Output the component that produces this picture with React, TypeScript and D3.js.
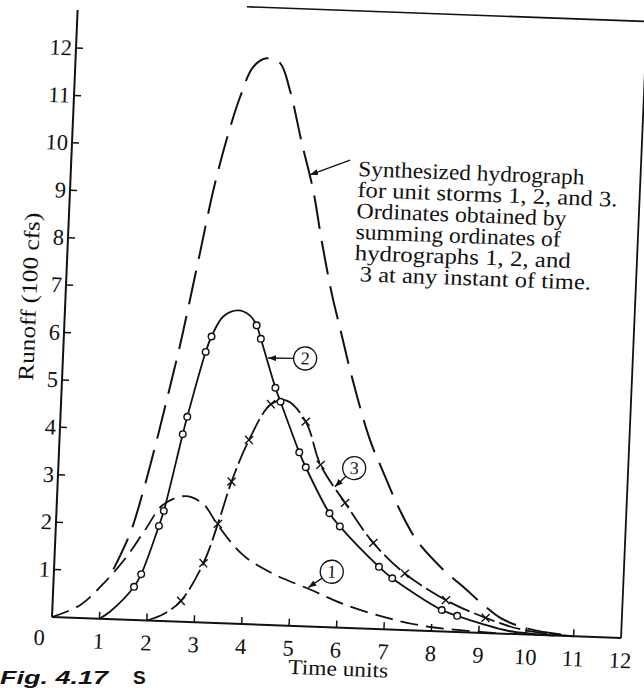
import * as d3 from 'd3';

type Pt = [number, number];

// time units on x, runoff (100 cfs) on y
const timeTicks = [1, 2, 3, 4, 5, 6, 7, 8, 9, 10, 11, 12];
const runoffTicks = [1, 2, 3, 4, 5, 6, 7, 8, 9, 10, 11, 12];

const hydro1: Pt[] = [
    [0, 0], [0.58, 0.27], [1.12, 0.82], [1.52, 1.33], [1.88, 1.9], [2.24, 2.45], [2.7, 2.65],
    [3.08, 2.5], [3.42, 2.05], [3.97, 1.45], [4.62, 1.08], [5.41, 0.78], [6.12, 0.5],
    [6.98, 0.26], [7.76, 0.11], [8.6, 0.04], [9.5, 0],
];

const hydro2: Pt[] = [
    [1, 0], [1.22, 0.16], [1.7, 0.7], [1.84, 0.97], [2.17, 2.0], [2.26, 2.32], [2.59, 3.95],
    [2.67, 4.32], [3.0, 5.7], [3.11, 6.03], [3.34, 6.46], [3.65, 6.6], [3.9, 6.5], [4.05, 6.3],
    [4.15, 6.02], [4.5, 5.0], [4.62, 4.71], [5.06, 3.66], [5.21, 3.35], [5.75, 2.4], [5.98, 2.13],
    [6.84, 1.31], [7.13, 1.08], [8.2, 0.45], [8.53, 0.34], [9.06, 0.19], [9.63, 0.06], [10.6, 0],
];

const hydro2Circles: Pt[] = [
    [1.7, 0.7], [1.84, 0.97], [2.17, 2.0], [2.26, 2.32], [2.59, 3.95], [2.67, 4.32], [3.0, 5.7],
    [3.11, 6.03], [4.05, 6.3], [4.15, 6.02], [4.5, 5.0], [4.62, 4.71], [5.06, 3.66], [5.21, 3.35],
    [5.75, 2.4], [5.98, 2.13], [6.84, 1.31], [7.13, 1.08], [8.2, 0.45], [8.53, 0.34],
];

const hydro3: Pt[] = [
    [2.0, 0], [2.35, 0.15], [2.7, 0.44], [3.14, 1.25], [3.41, 2.09], [3.66, 2.99], [3.99, 3.88],
    [4.42, 4.65], [4.75, 4.74], [5.17, 4.31], [5.52, 3.41], [6.07, 2.63], [6.7, 1.81],
    [7.39, 1.19], [8.28, 0.66], [9.13, 0.32], [9.9, 0.1], [11.0, 0],
];

const hydro3Crosses: Pt[] = [
    [2.7, 0.44], [3.14, 1.25], [3.41, 2.09], [3.66, 2.99], [3.99, 3.88], [4.42, 4.65],
    [5.17, 4.31], [5.52, 3.41], [6.07, 2.63], [6.7, 1.81], [7.39, 1.19], [8.28, 0.66], [9.13, 0.32],
];

const synthesized: Pt[] = [
    [1.25, 1.05], [1.57, 1.82], [1.78, 2.6], [2.05, 3.81], [2.28, 4.94], [2.45, 5.8], [2.56, 6.42],
    [2.79, 7.77], [3.02, 9.12], [3.25, 10.18], [3.5, 11.1], [3.75, 11.74], [4.02, 11.93],
    [4.31, 11.84], [4.54, 11.28], [4.84, 10.17], [5.12, 9.19], [5.34, 8.15], [5.61, 7.0],
    [5.81, 6.3], [6.1, 5.29], [6.54, 3.97], [6.84, 3.32], [7.23, 2.52], [7.61, 1.9],
    [8.13, 1.36], [8.71, 0.89], [9.0, 0.65], [9.48, 0.31], [10.05, 0.12], [11.0, 0],
];

const curveLabels = [
    { name: '1', at: [5.85, 1.17] as Pt, tip: [5.37, 0.82] as Pt },
    { name: '2', at: [5.1, 5.64] as Pt, tip: [4.32, 5.62] as Pt },
    { name: '3', at: [6.23, 3.37] as Pt, tip: [5.84, 2.96] as Pt },
];

const noteLines = [
    'Synthesized hydrograph',
    'for unit storms 1, 2, and 3.',
    'Ordinates obtained by',
    'summing ordinates of',
    'hydrographs 1,  2, and',
    '3 at any instant of time.',
];
const noteWidths = [226, 260, 210, 205, 216, 231];

const W = 644;
const H = 688;
const unit = 47.42;
// the scanned figure sits a little rotated; reproduce that with a skew matrix
const frame = 'matrix(1,0.0369,-0.0422,1,52,617)';
const serif = '"Liberation Serif", "DejaVu Serif", serif';
const sans = '"Liberation Sans", Arial, sans-serif';

export default function App() {
    const x = d3.scaleLinear().domain([0, 12]).range([0, 12 * unit]);
    const y = d3.scaleLinear().domain([0, 12]).range([0, -12 * unit]);

    const line = d3
        .line<Pt>()
        .x(d => x(d[0]))
        .y(d => y(d[1]))
        .curve(d3.curveCatmullRom.alpha(0.5));

    const edge = (c: Pt, t: Pt, r: number): Pt => {
        const dx = x(t[0]) - x(c[0]);
        const dy = y(t[1]) - y(c[1]);
        const len = Math.hypot(dx, dy);
        return [x(c[0]) + (dx / len) * r, y(c[1]) + (dy / len) * r];
    };

    return (
        <svg width={W} height={H} style={{ position: 'absolute', left: 0, top: 0, background: '#fff' }}>
            <defs>
                <marker id="arr" viewBox="0 0 8 6" refX="8" refY="3" markerWidth="8" markerHeight="6"
                    markerUnits="userSpaceOnUse" orient="auto">
                    <path d="M0,0 L8,3 L0,6 z" fill="#111" />
                </marker>
            </defs>
            <g transform={frame} fill="none" stroke="#111" strokeLinecap="butt">
                {/* frame */}
                <line x1={x(0)} y1={y(0)} x2={x(12)} y2={y(0)} strokeWidth={2} />
                <line x1={x(0)} y1={y(0)} x2={x(0)} y2={y(12.8)} strokeWidth={2} />
                <line x1={x(3.56)} y1={y(13)} x2={x(12.6)} y2={y(13)} strokeWidth={1.6} />
                <line x1={x(12)} y1={y(0)} x2={x(12)} y2={y(13.3)} strokeWidth={1.8} />

                {timeTicks.slice(0, -1).map(t => (
                    <line key={'xt' + t} x1={x(t)} x2={x(t)} y1={0} y2={-7} strokeWidth={1.5} />
                ))}
                {runoffTicks.map(t => (
                    <line key={'yt' + t} x1={0} x2={7} y1={y(t)} y2={y(t)} strokeWidth={1.5} />
                ))}

                {/* hydrographs */}
                <path d={line(synthesized) ?? ''} strokeWidth={2} strokeDasharray="34 12" />
                <path d={line(hydro1) ?? ''} strokeWidth={1.8} strokeDasharray="18 8" />
                <path d={line(hydro2) ?? ''} strokeWidth={1.8} />
                <path d={line(hydro3) ?? ''} strokeWidth={1.8} strokeDasharray="22 5" />

                {hydro2Circles.map((d, i) => (
                    <circle key={'c' + i} cx={x(d[0])} cy={y(d[1])} r={3.3} fill="#fff" strokeWidth={1.4} />
                ))}
                {hydro3Crosses.map((d, i) => (
                    <path key={'x' + i} strokeWidth={1.4}
                        d={`M${x(d[0]) - 4},${y(d[1]) - 4}L${x(d[0]) + 4},${y(d[1]) + 4}M${x(d[0]) + 4},${y(d[1]) - 4}L${x(d[0]) - 4},${y(d[1]) + 4}`} />
                ))}

                {/* circled curve numbers */}
                {curveLabels.map(l => {
                    const [ex, ey] = edge(l.at, l.tip, 11.5);
                    return (
                        <g key={'l' + l.name}>
                            <circle cx={x(l.at[0])} cy={y(l.at[1])} r={11.5} strokeWidth={1.3} />
                            <line x1={ex} y1={ey} x2={x(l.tip[0])} y2={y(l.tip[1])} strokeWidth={1.4} markerEnd="url(#arr)" />
                            <text x={x(l.at[0])} y={y(l.at[1]) + 6} textAnchor="middle" fill="#111" stroke="none"
                                fontFamily={serif} fontSize={18}>{l.name}</text>
                        </g>
                    );
                })}

                {/* note on the synthesized curve */}
                <line x1={x(5.87)} y1={y(9.85)} x2={x(5.04)} y2={y(9.51)} strokeWidth={1.3} markerEnd="url(#arr)" />
                <g fill="#111" stroke="none" fontFamily={serif} fontSize={22}>
                    {noteLines.map((s, i) => (
                        <text key={'n' + i} x={i === 5 ? 293 : 287} y={-451.6 + i * 21}
                            textLength={noteWidths[i]} lengthAdjust="spacingAndGlyphs">{s}</text>
                    ))}
                </g>

                {/* tick labels and titles */}
                <g fill="#111" stroke="none" fontFamily={serif} fontSize={22.5}>
                    {runoffTicks.map(t => (
                        <text key={'yl' + t} x={-4} y={y(t) + 7.5} textAnchor="end">{t}</text>
                    ))}
                    <text x={-12} y={28.5} textAnchor="middle">0</text>
                    {timeTicks.map(t => (
                        <text key={'xl' + t} x={x(t)} y={30} textAnchor="middle">{t}</text>
                    ))}
                    <text x={288} y={48} textAnchor="middle" fontSize={21} textLength={100} lengthAdjust="spacingAndGlyphs">Time units</text>
                    <text transform="translate(-29,-319) rotate(-90)" textAnchor="middle" fontSize={22}
                        textLength={168} lengthAdjust="spacingAndGlyphs">Runoff (100 cfs)</text>
                </g>
            </g>
            <text x={0} y={684} fontFamily={sans} fontWeight="bold" fontStyle="italic"
                fontSize={19} fill="#111" textLength={108} lengthAdjust="spacingAndGlyphs">Fig. 4.17</text>
            <text x={133} y={684} fontFamily={sans} fontWeight="bold" fontSize={19} fill="#111">S</text>
        </svg>
    );
}
